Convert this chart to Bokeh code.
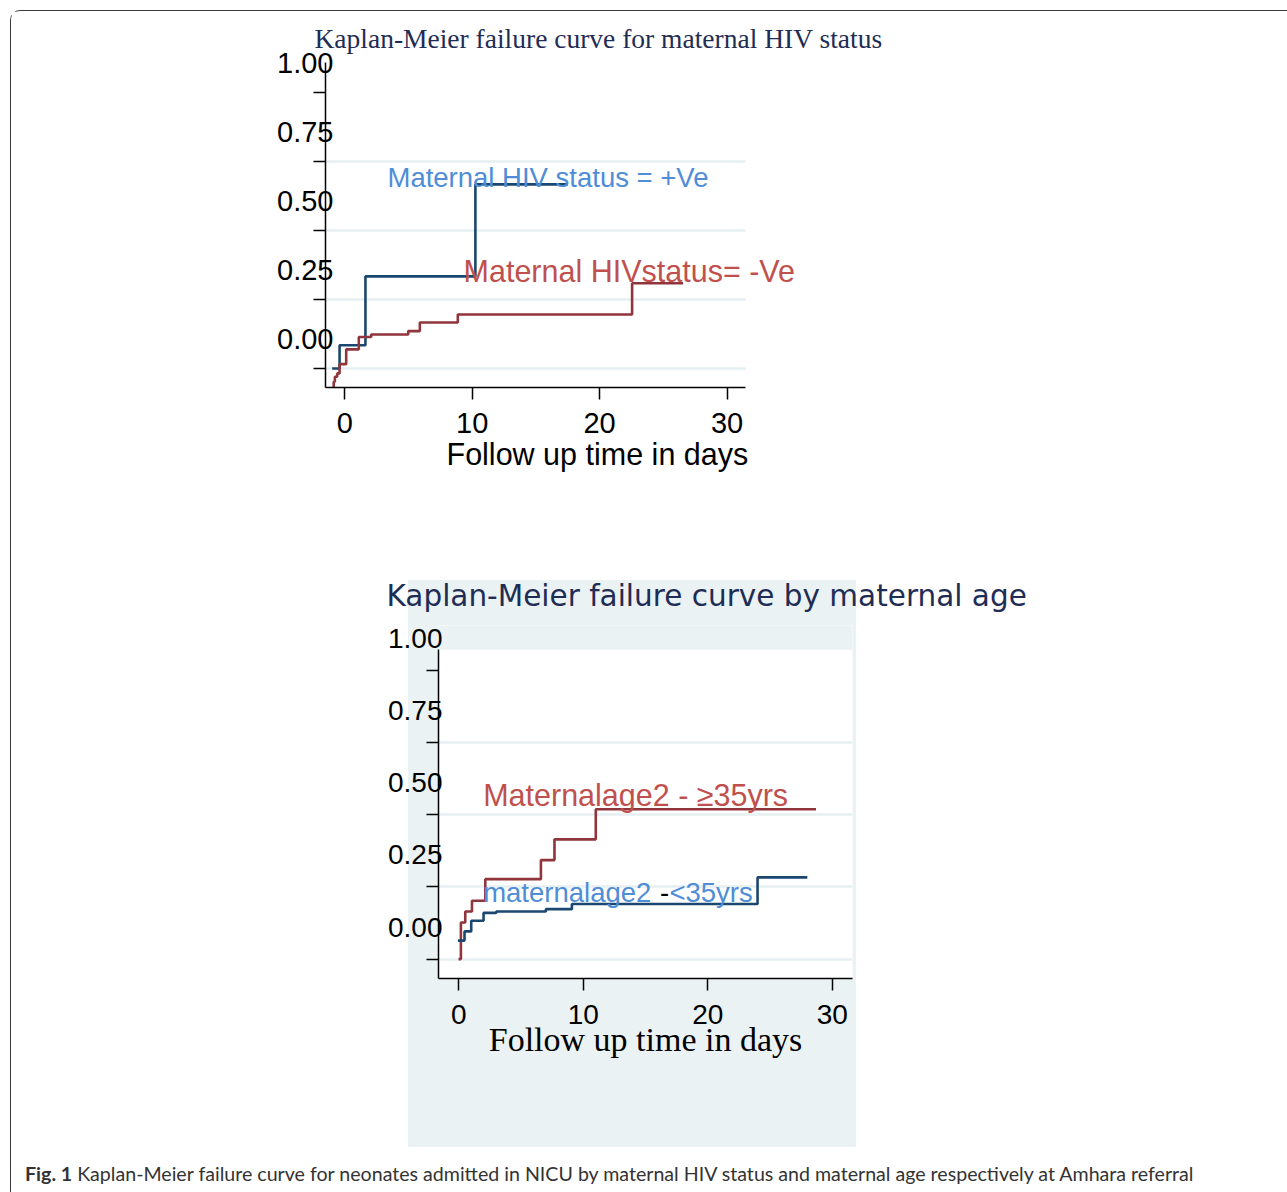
from bokeh.plotting import figure
from bokeh.models import (Range1d, LinearAxis, FixedTicker, NumeralTickFormatter, Grid,
                          BoxAnnotation, Div, Title, Plot, Label)
from bokeh.layouts import column
from bokeh.embed import file_html
from bokeh.resources import INLINE

# ---------------- data ----------------
y_ticks = [0.0, 0.25, 0.5, 0.75, 1.0]
y_tick_labels = ["0.00", "0.25", "0.50", "0.75", "1.00"]
grid_ticks = [0.0, 0.25, 0.5, 0.75]
x_ticks = [0, 10, 20, 30]
x_tick_labels = ["0", "10", "20", "30"]

# Chart 1: maternal HIV status
hiv_pos_time = [-0.99, -0.41, 1.62, 10.25, 17.5]
hiv_pos_fail = [0.0, 0.084, 0.333, 0.666, 0.666]
hiv_neg_time = [-0.94, -0.87, -0.78, -0.60, -0.41, 0.11, 1.10, 2.07, 4.98, 5.89, 8.87, 22.55, 26.55]
hiv_neg_fail = [-0.069, -0.048, -0.030, -0.018, 0.0155, 0.069, 0.114, 0.123, 0.135, 0.166, 0.195, 0.308, 0.308]

# Chart 2: maternal age
age_old_time = [-0.03, 0.16, 0.51, 1.05, 2.12, 6.59, 7.68, 11.0, 28.7]
age_old_fail = [0.0, 0.127, 0.165, 0.202, 0.277, 0.343, 0.415, 0.519, 0.519]
age_young_time = [-0.08, 0.45, 0.99, 1.98, 3.0, 6.99, 9.08, 24.0, 28.0]
age_young_fail = [0.064, 0.096, 0.133, 0.16, 0.165, 0.173, 0.191, 0.283, 0.283]

title1 = "Kaplan-Meier failure curve for maternal HIV status"
title2 = "Kaplan-Meier failure curve by maternal age"
xlabel = "Follow up time in days"
caption = ("Kaplan-Meier failure curve for neonates admitted in NICU by maternal HIV status "
           "and maternal age respectively at Amhara referral")

# ---------------- style ----------------
NAVY = "#1a476f"
MAROON = "#90353b"
TXT_BLUE = "#4f8dd7"
TXT_RED = "#c0504d"
TITLE_C = "#1f2d55"
GRID_C = "#e6eff1"
BG = "#eaf2f3"
W = 1276
HAS_FRAME_ALIGN = "frame_align" in Plot.properties()


def build(height, mb, xr, yr, ytop_white, lab_off, tick_font, title, title_font,
          title_size, title_offset, title_standoff, ylab_standoff, xlab_tick_standoff,
          x_bounds="auto", **kw):
    extra = {"frame_align": False} if HAS_FRAME_ALIGN else {}
    p = figure(width=W, height=height, x_range=Range1d(*xr), y_range=Range1d(*yr),
               y_axis_location=None, output_backend="svg", toolbar_location=None,
               min_border_left=mb[0], min_border_right=mb[1], min_border_top=mb[2],
               min_border_bottom=mb[3], outline_line_color=None, **extra, **kw)
    p.extra_y_ranges = {"lab": Range1d(yr[0] - lab_off, yr[1] - lab_off)}
    p.xgrid.visible = False
    for g in p.ygrid:
        g.visible = False
    p.add_layout(Grid(dimension=1, ticker=FixedTicker(ticks=grid_ticks),
                      grid_line_color=GRID_C, grid_line_width=2.5))

    # axis with line + tick marks
    ax_a = LinearAxis(ticker=FixedTicker(ticks=[], minor_ticks=y_ticks),
                      bounds=(yr[0], ytop_white), axis_line_width=1.5,
                      minor_tick_out=12, minor_tick_in=0, minor_tick_line_width=1.5,
                      minor_tick_line_color="black", major_label_standoff=0)
    p.add_layout(ax_a, "left")
    # axis with labels (drawn above the tick marks as in the source)
    ax_b = LinearAxis(y_range_name="lab", ticker=FixedTicker(ticks=y_ticks),
                      formatter=NumeralTickFormatter(format="0.00"),
                      major_label_overrides=dict(zip(y_ticks, y_tick_labels)),
                      axis_line_color=None, major_tick_line_color=None,
                      minor_tick_line_color=None, major_tick_out=0, major_tick_in=0,
                      major_label_standoff=ylab_standoff,
                      major_label_text_font="Liberation Sans",
                      major_label_text_font_size=tick_font,
                      major_label_text_color="black")
    p.add_layout(ax_b, "left")

    xa = p.xaxis[0]
    xa.ticker = FixedTicker(ticks=x_ticks)
    xa.major_label_overrides = dict(zip(x_ticks, x_tick_labels))
    xa.bounds = x_bounds
    xa.axis_line_width = 1.5
    xa.major_tick_line_width = 1.5
    xa.major_tick_out = 12
    xa.major_tick_in = 0
    xa.minor_tick_line_color = None
    xa.major_label_standoff = xlab_tick_standoff
    xa.major_label_text_font = "Liberation Sans"
    xa.major_label_text_font_size = tick_font
    xa.major_label_text_color = "black"

    p.title.text = title
    p.title.align = "left"
    p.title.offset = title_offset
    p.title.standoff = title_standoff
    p.title.text_font = title_font
    p.title.text_font_size = title_size
    p.title.text_font_style = "normal"
    p.title.text_color = TITLE_C
    return p


def note(p, x, y, text, color, size):
    p.add_layout(Label(x=x, y=y, text=text, text_color=color,
                       text_font="Liberation Sans", text_font_size=size,
                       text_align="left", text_baseline="alphabetic"))


# ---- chart 1 ----
# the plot region is widened to the right so that the long label is not cut;
# the axis line and the grid stop at the original edge (x = 31.45)
X1_END = 31.45
p1 = build(494, (314, 482, 51, 118), (-1.515, 36.16), (-0.069, 1.107), 1.107, 0.105,
           "29px", title1, "Liberation Serif", "27.5px", -11, 17, -20, 13,
           x_bounds=(-1.515, X1_END))
p1.add_layout(BoxAnnotation(left=X1_END, fill_color="white", fill_alpha=1.0,
                            line_color=None, level="underlay"))
# x-axis title of chart 1 sits right of centre in the source
p1.add_layout(Title(text=xlabel, align="left", offset=121, standoff=-2,
                    text_font="Liberation Sans", text_font_size="30.5px",
                    text_font_style="normal", text_color="black"), "below")
p1.step(hiv_pos_time, hiv_pos_fail, mode="after", line_color=NAVY, line_width=2.6)
p1.step(hiv_neg_time, hiv_neg_fail, mode="after", line_color=MAROON, line_width=2.6)
note(p1, 3.35, 0.692, "Maternal HIV status = +Ve", TXT_BLUE, "27.5px")
note(p1, 9.32, 0.352, "Maternal HIVstatus= -Ve", TXT_RED, "30.5px")

# ---- chart 2 ----
p2 = build(645, (427, 435, 120, 172), (-1.64, 31.63), (-0.0673, 1.156), 1.072, 0.111,
           "28px", title2, "DejaVu Sans", "29.5px", -52, 25, -16, 14,
           border_fill_alpha=0.0,
           styles={"background-image": f"linear-gradient({BG}, {BG})",
                   "background-size": "448px 567px",
                   "background-position": "397px 75px",
                   "background-repeat": "no-repeat"})
xa2 = p2.xaxis[0]
xa2.axis_label = xlabel
xa2.axis_label_text_font = "Liberation Serif"
xa2.axis_label_text_font_size = "34px"
xa2.axis_label_text_font_style = "normal"
xa2.axis_label_text_color = "black"
xa2.axis_label_standoff = -6
p2.add_layout(BoxAnnotation(bottom=1.072, fill_color=BG, fill_alpha=1.0,
                            line_color=None, level="underlay"))
p2.step(age_old_time, age_old_fail, mode="after", line_color=MAROON, line_width=2.6)
p2.step(age_young_time, age_young_fail, mode="after", line_color=NAVY, line_width=2.6)
note(p2, 1.95, 0.570, "Maternalage2 - \u226535yrs", TXT_RED, "30.5px")
note(p2, 1.95, 0.229, "maternalage2", TXT_BLUE, "27.5px")
note(p2, 16.17, 0.229, "-", "black", "27.5px")
note(p2, 16.92, 0.229, "<35yrs", TXT_BLUE, "27.5px")

cap = Div(text=f"<b>Fig. 1</b> {caption}", width=W, height=32,
          styles={"font-family": "Lato", "font-size": "19.6px", "line-height": "19.6px",
                  "padding-left": "9px", "padding-top": "9px", "color": "#333",
                  "white-space": "nowrap", "box-sizing": "border-box"})

page = column(p1, p2, cap,
              styles={"border-top": "1px solid #3a3a3a", "border-left": "1px solid #3a3a3a",
                      "border-top-left-radius": "10px", "margin-left": "10px",
                      "margin-top": "10px"})

open("out.html", "w").write(file_html(page, INLINE))
